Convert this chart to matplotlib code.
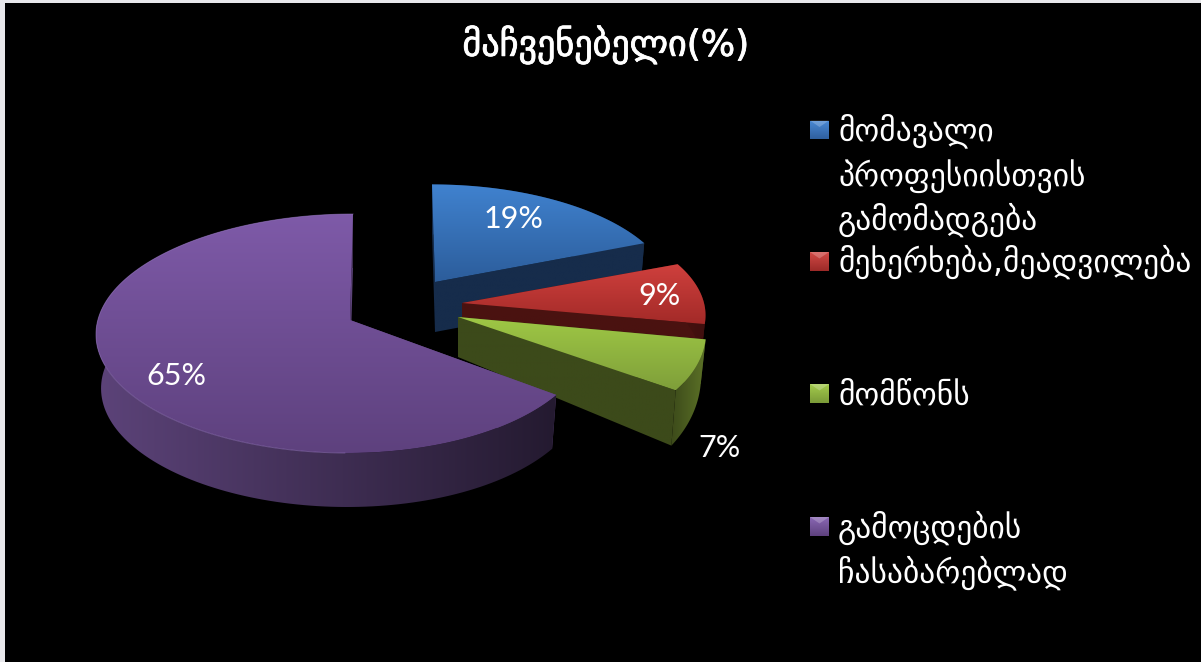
import numpy as np
import matplotlib
matplotlib.use('Agg')
import matplotlib.pyplot as plt
import matplotlib.patheffects as pe
from matplotlib.patches import Polygon, Rectangle

title_text = 'მაჩვენებელი(%)'
categories = ['მომავალი\nპროფესიისთვის\nგამომადგება',
              'მეხერხება,მეადვილება',
              'მომწონს',
              'გამოცდების\nჩასაბარებლად']
values = [19, 9, 7, 65]

# apex x, apex y, rx, ry, depth at apex, depth growth toward viewer, tilt, skew
slice_geom = [(435, 282, 236, 110, 50, 0.0, 3, 0.0),
              (462, 303, 242, 110, 45, 0.0, 0, 0.0),
              (458, 317, 278, 117, 40, 0.65, 0, 0.114),
              (350, 320, 246, 119.5, 54, 0.0, -3, 0.025)]
top_colors = [('#4082cf', '#2c5d9b'), ('#cf403d', '#a32a28'),
              ('#9fc845', '#7f9f3a'), ('#7e5aa8', '#5e417e')]
wall_colors = [('#162c4b', '#162c4b'), ('#4a1210', '#3f0f0e'),
               ('#3c4a1a', '#5c7227'), ('#5c4379', '#241a30')]
marker_colors = [('#4a8ad6', '#2f5f9e'), ('#d24a46', '#9c2a28'),
                 ('#a4cc4c', '#7a9a38'), ('#8a68b4', '#5e417e')]
label_pos = [(513, 219), (660, 296), (720, 448), (176, 376)]
marker_y = [130, 261.5, 393.5, 526.5]
legend_y = [[131, 176, 220], [262], [396], [528, 573]]
perspective = 0.113
bottom_scale = 0.98


def rim(geom, th):
    cx, cy, rx, ry, _, _, tilt, skew = geom
    near = -np.cos(th)
    s = 1 + perspective * near
    x = cx + rx * np.sin(th) * s * (1 - skew * np.sin(th)) + tilt * near
    y = cy + ry * near * s
    return x, y


def drop(geom, x, y, th):
    cx, _, _, _, depth, grow, _, _ = geom
    near = np.maximum(-np.cos(th), 0)
    return cx + (x - cx) * bottom_scale, y + depth * (1 + grow * near)


def fill_gradient(ax, pts, c0, c1, vertical=True, zorder=1):
    pts = np.asarray(pts)
    x0, x1 = pts[:, 0].min(), pts[:, 0].max()
    y0, y1 = pts[:, 1].min(), pts[:, 1].max()
    a = np.array(matplotlib.colors.to_rgb(c0))
    b = np.array(matplotlib.colors.to_rgb(c1))
    t = np.linspace(0, 1, 128)
    img = a[None, :] * (1 - t[:, None]) + b[None, :] * t[:, None]
    img = img[:, None, :] if vertical else img[None, :, :]
    poly = Polygon(pts, closed=True, fc='none', ec='none', transform=ax.transData)
    ax.add_patch(poly)
    im = ax.imshow(img, extent=(x0, x1, y1, y0), aspect='auto', zorder=zorder,
                   interpolation='bilinear')
    im.set_clip_path(poly)


fig = plt.figure(figsize=(12.01, 6.62), dpi=100, facecolor='#e8e8ec')
ax = fig.add_axes([0, 0, 1, 1])
ax.set_xlim(0, 1201)
ax.set_ylim(662, 0)
ax.axis('off')
ax.add_patch(Rectangle((5, 3), 1196, 659, fc='black', ec='none', zorder=0))

# slices clockwise from 12 o'clock
edges = np.cumsum([0] + values) / sum(values) * 2 * np.pi
z = 1
for i in range(len(values)):
    g = slice_geom[i]
    th = np.linspace(edges[i], edges[i + 1], 160)
    x, y = rim(g, th)
    bx, by = drop(g, x, y, th)
    # radial faces
    for k in (0, -1):
        face = [(g[0], g[1]), (x[k], y[k]), (bx[k], by[k]), (g[0], g[1] + g[4])]
        fill_gradient(ax, face, wall_colors[i][0], wall_colors[i][0], zorder=z)
        z += 1
    # outer wall
    wall = np.r_[np.c_[x, y], np.c_[bx, by][::-1]]
    fill_gradient(ax, wall, wall_colors[i][0], wall_colors[i][1], vertical=False, zorder=z)
    z += 1
    # top
    top = np.r_[[(g[0], g[1])], np.c_[x, y]]
    fill_gradient(ax, top, top_colors[i][0], top_colors[i][1], zorder=z)
    z += 1
    if i == 3:
        # faint light rim on the front edge
        front = np.sin(th) < 0
        ax.plot(x[front], y[front], color='#9a7cc4', lw=0.7, alpha=0.5, zorder=z)
        z += 1

for v, (lx, ly) in zip(values, label_pos):
    ax.text(lx, ly, f'{v}%', color='white', fontsize=22, family='Lato',
            ha='center', va='center', zorder=100)

ax.text(606, 45, title_text, color='white', fontsize=26, family='DejaVu Sans',
        ha='center', va='center', zorder=100,
        path_effects=[pe.withStroke(linewidth=0.6, foreground='white')])

for cat, c, my, ys in zip(categories, marker_colors, marker_y, legend_y):
    square = [(810, my - 9.5), (829, my - 9.5), (829, my + 9.5), (810, my + 9.5)]
    fill_gradient(ax, square, c[0], c[1], zorder=100)
    ax.add_patch(Polygon([(810, my - 9.5), (829, my - 9.5), (819.5, my - 3)], closed=True,
                         fc='white', alpha=0.22, ec='none', zorder=101))
    for line, ly in zip(cat.split('\n'), ys):
        ax.text(838, ly, line, color='white', fontsize=22.7, family='DejaVu Sans',
                ha='left', va='center', zorder=100)

ax.set_xlim(0, 1201)
ax.set_ylim(662, 0)
fig.savefig('out.png', dpi=100, facecolor=fig.get_facecolor())
